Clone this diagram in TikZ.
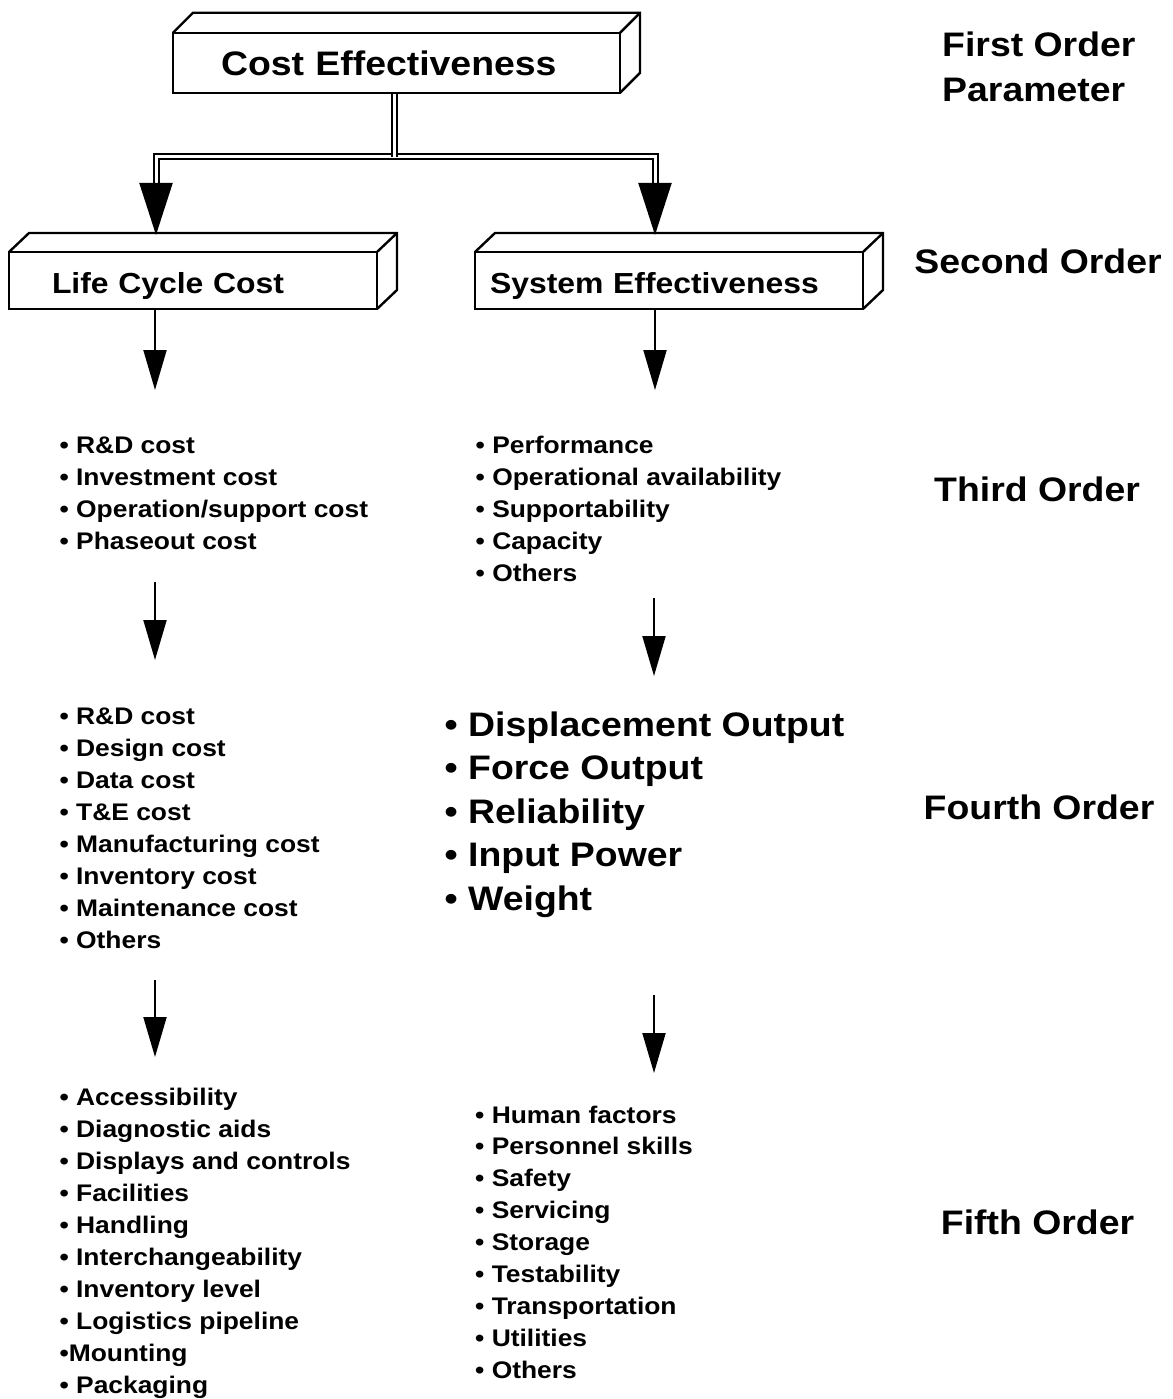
\documentclass[tikz,border=0pt]{standalone}
\usepackage{fontspec}
\setmainfont{Liberation Sans}[FakeStretch=1.1]
\usetikzlibrary{arrows.meta,calc}

% top face and right face of a block drawn behind a rectangular front face
\newcommand\blockdepth[3]{%
  \draw[boxline] (#1.north west) -- ++(#2,-#3) -- ($(#1.north east)+(#2,-#3)$)
     -- ($(#1.south east)+(#2,-#3)$) -- (#1.south east);
  \draw[boxline] (#1.north east) -- ++(#2,-#3);
}

\begin{document}
\begin{tikzpicture}[x=1pt,y=-1pt,
  boxline/.style={line width=2.4pt, line join=miter},
  block/.style={boxline, draw, fill=white, outer sep=0pt, inner ysep=0pt,
    align=left, text depth=0pt, font=\fontsize{29}{34}\selectfont\bfseries},
  rail/.style={double, line width=2pt, double distance=3pt},
  arr/.style={line width=2pt, -{Triangle[length=40pt,width=23pt]}},
  bigarr/.style={line width=2pt, -{Triangle[length=52pt,width=33pt]}},
  item/.style={inner sep=0pt, anchor=base west, font=\fontsize{24}{29}\selectfont\bfseries},
  bigitem/.style={inner sep=0pt, anchor=base west, font=\fontsize{34}{40}\selectfont\bfseries},
  order/.style={inner sep=0pt, anchor=base, font=\fontsize{34}{40}\selectfont\bfseries}]

\useasboundingbox[fill=white] (0,0) rectangle (1172,1399);

% split points of the double connector
\coordinate (jl) at (156,186);
\coordinate (jr) at (655,186);
\coordinate (jm) at (394.5,157);
\coordinate (jt) at (394.5,88);

% double-lined connector from the top block (the block is drawn over its upper end)
\draw[rail] (jl) -- (jl |- jm) -- (jr |- jm) -- (jr);
\draw[rail] (jt) -- (jm);

% first order block
\node[block, minimum width=447pt, minimum height=60pt, inner xsep=48pt,
      text width=351pt, text height=26pt, font=\fontsize{34}{40}\selectfont\bfseries]
  (ce) at (396.5,62.8) {Cost Effectiveness};
\blockdepth{ce}{20}{20}

% second order blocks
\node[block, minimum width=368pt, minimum height=57pt, inner xsep=43pt,
      text width=282pt, text height=25pt]
  (lcc) at (193,280.5) {Life Cycle Cost};
\blockdepth{lcc}{20}{19}
\node[block, minimum width=388pt, minimum height=57pt, inner xsep=15pt,
      text width=358pt, text height=25pt]
  (se) at (669,280.5) {System Effectiveness};
\blockdepth{se}{20}{19}

% arrow tips onto the second order blocks
\coordinate (lcctop) at (156,235);
\coordinate (setop) at (655,235);
\draw[bigarr] (jl) -- (lcctop);
\draw[bigarr] (jr) -- (setop);

% arrows between the levels
\coordinate (a1) at (155,390);
\coordinate (b1) at (655,390);
\draw[arr] (lcc.south -| a1) -- (a1);
\draw[arr] (se.south -| b1) -- (b1);

\coordinate (a2s) at (155,582);  \coordinate (a2) at (155,660);
\coordinate (b2s) at (654,598);  \coordinate (b2) at (654,676);
\draw[arr] (a2s) -- (a2);
\draw[arr] (b2s) -- (b2);

\coordinate (a3s) at (155,980);  \coordinate (a3) at (155,1057);
\coordinate (b3s) at (654,995);  \coordinate (b3) at (654,1073);
\draw[arr] (a3s) -- (a3);
\draw[arr] (b3s) -- (b3);

% third order
\foreach \t [count=\i] in {R\&D cost, Investment cost, Operation/support cost, Phaseout cost}
  \node[item] (tl\i) at (59.4,{453+32*(\i-1)}) {• \t};
\foreach \t [count=\i] in {Performance, Operational availability, Supportability, Capacity, Others}
  \node[item] (tr\i) at (475.5,{453+32*(\i-1)}) {• \t};

% fourth order
\foreach \t [count=\i] in {R\&D cost, Design cost, Data cost, T\&E cost, Manufacturing cost,
    Inventory cost, Maintenance cost, Others}
  \node[item] (fl\i) at (59.4,{724.5+32*(\i-1)}) {• \t};
\foreach \t [count=\i] in {Displacement Output, Force Output, Reliability, Input Power, Weight}
  \node[bigitem] (fr\i) at (444.5,{736+43.5*(\i-1)}) {• \t};

% fifth order
\foreach \t [count=\i] in {• Accessibility, • Diagnostic aids, • Displays and controls,
    • Facilities, • Handling, • Interchangeability, • Inventory level,
    • Logistics pipeline, •Mounting, • Packaging}
  \node[item] (vl\i) at (59.4,{1105+32*(\i-1)}) {\t};
\foreach \t [count=\i] in {Human factors, Personnel skills, Safety, Servicing, Storage,
    Testability, Transportation, Utilities, Others}
  \node[item] (vr\i) at (475,{1123+31.9*(\i-1)}) {• \t};

% order labels
\node[order, anchor=base west] (o1a) at (942,57) {First Order};
\node[order, anchor=base west] (o1b) at (942,101.7) {Parameter};
\node[order] (o2) at (1038,273) {Second Order};
\node[order] (o3) at (1037,501.5) {Third Order};
\node[order] (o4) at (1039,819) {Fourth Order};
\node[order] (o5) at (1037.5,1234) {Fifth Order};

\end{tikzpicture}
\end{document}
